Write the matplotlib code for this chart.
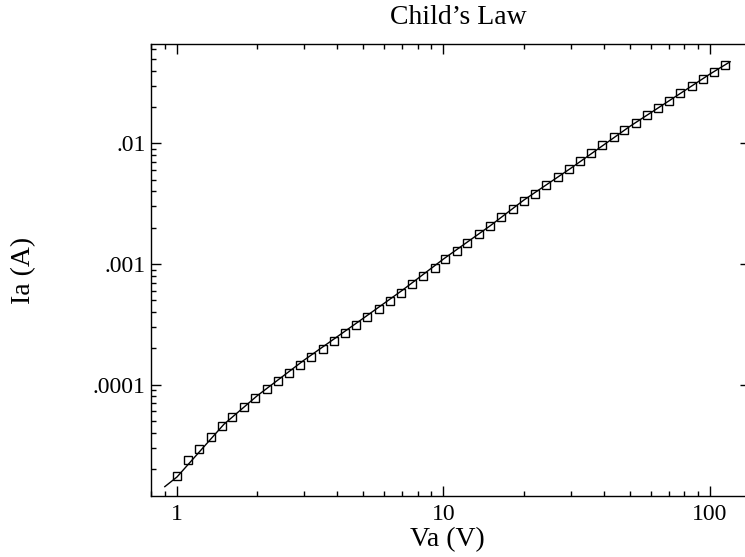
import matplotlib
matplotlib.use("Agg")
import matplotlib.pyplot as plt
from matplotlib.ticker import FixedLocator, FixedFormatter, LogLocator, NullFormatter

# Measured data (open squares)
va_data = [1.00, 1.10, 1.21, 1.34, 1.47, 1.61, 1.78, 1.96, 2.17, 2.39,
           2.63, 2.90, 3.19, 3.52, 3.87, 4.27, 4.70, 5.18, 5.71, 6.28,
           6.91, 7.62, 8.40, 9.27, 10.1, 11.2, 12.3, 13.6, 15.0, 16.5,
           18.2, 20.1, 22.0, 24.3, 26.8, 29.6, 32.6, 35.8, 39.4, 43.5,
           47.7, 52.6, 57.9, 63.8, 70.4, 77.4, 85.4, 93.9, 103.5, 113.8]
ia_data = [1.75e-5, 2.36e-5, 2.95e-5, 3.69e-5, 4.57e-5, 5.43e-5, 6.53e-5, 7.80e-5, 9.16e-5, 1.073e-4,
           1.257e-4, 1.464e-4, 1.687e-4, 1.965e-4, 2.30e-4, 2.68e-4, 3.12e-4, 3.62e-4, 4.24e-4, 4.97e-4,
           5.78e-4, 6.79e-4, 7.95e-4, 9.30e-4, 1.10e-3, 1.29e-3, 1.50e-3, 1.76e-3, 2.06e-3, 2.44e-3,
           2.84e-3, 3.32e-3, 3.82e-3, 4.49e-3, 5.23e-3, 6.09e-3, 7.14e-3, 8.27e-3, 9.63e-3, 1.121e-2,
           1.289e-2, 1.482e-2, 1.706e-2, 1.961e-2, 2.254e-2, 2.60e-2, 3.00e-2, 3.43e-2, 3.92e-2, 4.45e-2]

# Fitted curve (solid line)
va_fit = [0.90, 1.0, 1.5, 2.0, 3.0, 5.0, 7.0, 10.0, 15.0, 20.0, 30.0, 50.0, 70.0, 100.0, 119.0]
ia_fit = [1.43e-5, 1.72e-5, 4.7e-5, 8.1e-5, 1.6e-4, 3.55e-4, 6.05e-4, 1.10e-3, 2.08e-3,
          3.38e-3, 6.2e-3, 1.38e-2, 2.24e-2, 3.75e-2, 4.74e-2]

x_ticks = [1, 10, 100]
x_ticklabels = ["1", "10", "100"]
y_ticks = [1e-4, 1e-3, 1e-2]
y_ticklabels = [".0001", ".001", ".01"]

plt.rcParams['font.family'] = ['Liberation Serif', 'DejaVu Serif']

W, H = 745, 557
fig = plt.figure(figsize=(W / 100, H / 100), dpi=100)
left, right, top, bottom = 151, 750, 44, 496
ax = fig.add_axes([left / W, 1 - bottom / H, (right - left) / W, (bottom - top) / H])

ax.plot(va_fit, ia_fit, color='black', lw=1.0)
ax.plot(va_data, ia_data, linestyle='none', marker='s', markersize=6,
        markerfacecolor='none', markeredgecolor='black', markeredgewidth=1.0)

ax.set_xscale('log')
ax.set_yscale('log')
ax.set_xlim(10 ** ((left - 177) / 266.5), 10 ** ((right - 177) / 266.5))
ax.set_ylim(10 ** (-2 - (bottom - 143.3) / 120.7), 10 ** (-2 - (top - 143.3) / 120.7))

ax.xaxis.set_major_locator(FixedLocator(x_ticks))
ax.xaxis.set_major_formatter(FixedFormatter(x_ticklabels))
ax.yaxis.set_major_locator(FixedLocator(y_ticks))
ax.yaxis.set_major_formatter(FixedFormatter(y_ticklabels))
ax.xaxis.set_minor_locator(LogLocator(base=10, subs=range(2, 10)))
ax.yaxis.set_minor_locator(LogLocator(base=10, subs=range(2, 10)))
ax.xaxis.set_minor_formatter(NullFormatter())
ax.yaxis.set_minor_formatter(NullFormatter())

ax.tick_params(which='both', direction='in', top=True, right=True, width=1.0, labelsize=17)
ax.tick_params(axis='x', which='major', pad=6)
ax.tick_params(axis='y', which='major', pad=4)
ax.tick_params(which='major', length=7.5)
ax.tick_params(which='minor', length=3.8)
for s in ax.spines.values():
    s.set_linewidth(1.0)

ax.set_xlabel("Va (V)", fontsize=20, va='center')
ax.set_ylabel("Ia (A)", fontsize=20, va='center')
ax.xaxis.set_label_coords((447 - left) / (right - left), -(540 - bottom) / (bottom - top))
ax.yaxis.set_label_coords((24 - left) / (right - left), (bottom - 270) / (bottom - top))
fig.text(458 / W, 1 - 17 / H, "Child\u2019s Law", ha='center', va='center', fontsize=20)

fig.savefig("out.png", dpi=100)
